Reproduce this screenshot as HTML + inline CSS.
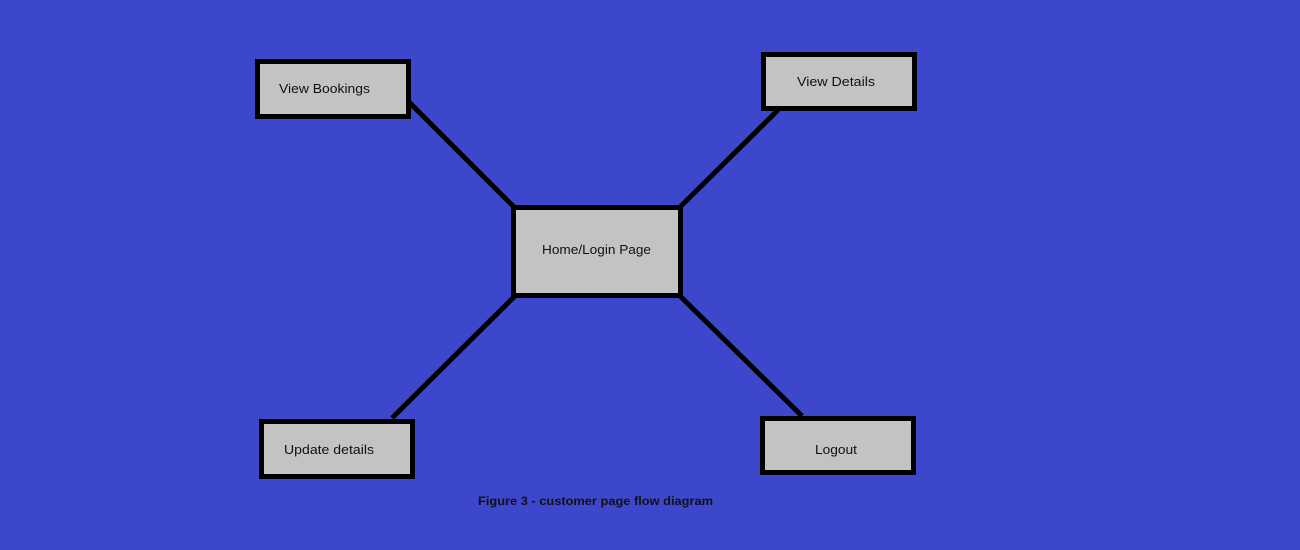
<!DOCTYPE html>
<html><head><meta charset="utf-8"><style>
html,body{margin:0;padding:0;width:1300px;height:550px;overflow:hidden;background:#3d47cb;}
</style></head><body>
<svg width="1300" height="550" xmlns="http://www.w3.org/2000/svg" style="display:block">
<rect width="1300" height="550" fill="#3d47cb"/>
<g stroke="#000" stroke-width="5" stroke-linecap="butt">
<line x1="408" y1="101" x2="516" y2="209"/>
<line x1="778" y1="110" x2="678" y2="209"/>
<line x1="516" y1="295" x2="392" y2="418"/>
<line x1="679" y1="295" x2="802" y2="416"/>
</g>
<g fill="#c3c3c3" stroke="#000" stroke-width="5">
<rect x="257.5" y="61.5" width="151" height="55"/>
<rect x="763.5" y="54.5" width="151" height="54"/>
<rect x="513.5" y="207.5" width="167" height="88"/>
<rect x="261.5" y="421.5" width="151" height="55"/>
<rect x="762.5" y="418.5" width="151" height="54"/>
</g>
<g font-family="Liberation Sans, sans-serif" font-size="13" fill="#111">
<text x="279" y="93" textLength="91" lengthAdjust="spacingAndGlyphs">View Bookings</text>
<text x="797" y="86" textLength="78" lengthAdjust="spacingAndGlyphs">View Details</text>
<text x="542" y="254" textLength="109" lengthAdjust="spacingAndGlyphs">Home/Login Page</text>
<text x="284" y="454" textLength="90" lengthAdjust="spacingAndGlyphs">Update details</text>
<text x="815" y="454" textLength="42" lengthAdjust="spacingAndGlyphs">Logout</text>
<text x="478" y="505" font-weight="bold" font-size="12" textLength="235" lengthAdjust="spacingAndGlyphs">Figure 3 - customer page flow diagram</text>
</g>
</svg>
</body></html>
